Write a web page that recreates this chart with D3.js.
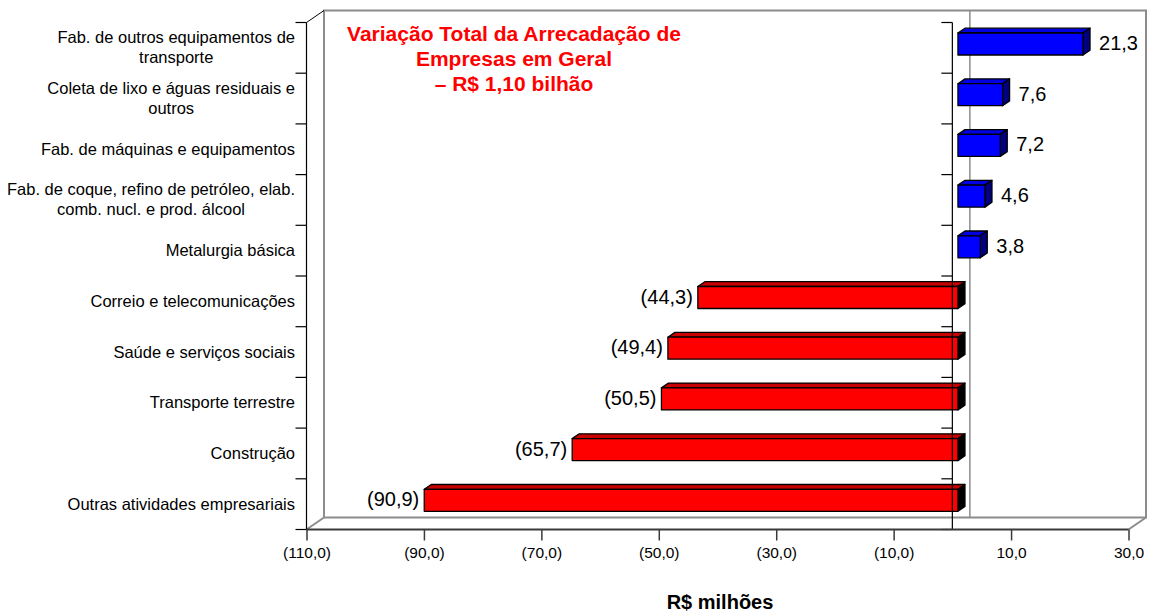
<!DOCTYPE html>
<html>
<head>
<meta charset="utf-8">
<script src="https://cdn.jsdelivr.net/npm/d3@7"></script>
<style>
  html, body { margin: 0; padding: 0; background: #fff; }
  svg { display: block; font-family: "Liberation Sans", Arial, sans-serif; }
</style>
</head>
<body>
<svg id="chart" width="1154" height="612"></svg>
<script>
// ---- data ----
const categories = [
  ["Fab. de outros equipamentos de", "transporte"],
  ["Coleta de lixo e águas residuais e", "outros"],
  ["Fab. de máquinas e equipamentos"],
  ["Fab. de coque, refino de petróleo, elab.", "comb. nucl. e prod. álcool"],
  ["Metalurgia básica"],
  ["Correio e telecomunicações"],
  ["Saúde e serviços sociais"],
  ["Transporte terrestre"],
  ["Construção"],
  ["Outras atividades empresariais"]
];
const values = [21.3, 7.6, 7.2, 4.6, 3.8, -44.3, -49.4, -50.5, -65.7, -90.9];
const tickValues = [-110, -90, -70, -50, -30, -10, 10, 30];
const titleLines = ["Variação Total da Arrecadação de", "Empresas em Geral", "– R$ 1,10 bilhão"];
const axisTitle = "R$ milhões";

// ---- layout ----
const svg = d3.select("#chart");
const DX = 17.5, DY = -12;          // 3D depth offset
const F0 = 0.32, F1 = 0.72;         // bar depth (front/back fraction)
const x = d3.scaleLinear().domain([-110, 30]).range([306.5, 1128.5]);
const keys = categories.map((c, i) => i);
const y = d3.scaleBand().domain(keys).range([22.5, 529.5]);
const barH = 22;

const fmt = v => {
  const s = d3.format(".1f")(Math.abs(v)).replace(".", ",");
  return v < 0 ? "(" + s + ")" : s;
};

const xL = x.range()[0], xR = x.range()[1];
const yT = y.range()[0], yB = y.range()[1];

// back wall
const wall = svg.append("g").attr("fill", "none").attr("stroke", "#8c8c8c").attr("stroke-width", 2);
wall.append("path").attr("d",
  `M${xL+DX},${yB+DY}L${xL+DX},${yT+DY}L${xR+DX},${yT+DY}L${xR+DX},${yB+DY}L${xL+DX},${yB+DY}`);
// floor side diagonals
wall.append("line").attr("x1", xL).attr("y1", yB).attr("x2", xL+DX).attr("y2", yB+DY);
wall.append("line").attr("x1", xR).attr("y1", yB).attr("x2", xR+DX).attr("y2", yB+DY);
// back zero line
wall.append("line").attr("x1", x(0)+DX).attr("y1", yT+DY).attr("x2", x(0)+DX).attr("y2", yB+DY)
  .attr("stroke-width", 1.5);

// top-left diagonal (black)
svg.append("line").attr("x1", xL).attr("y1", yT).attr("x2", xL+DX).attr("y2", yT+DY)
  .attr("stroke", "#000").attr("stroke-width", 1);

// bars
const bars = svg.append("g");
values.forEach((v, i) => {
  const a = x(Math.min(0, v)), b = x(Math.max(0, v));
  const yc = y(i) + y.bandwidth() / 2;
  const t = yc - barH / 2, btm = yc + barH / 2;
  const p = (xx, yy, f) => [xx + DX * f, yy + DY * f];
  const pos = v >= 0;
  const cFront = pos ? "#0000ff" : "#ff0000";
  const cTop = pos ? "#0000e0" : "#c80000";
  const cSide = pos ? "#000080" : "#000000";
  const poly = pts => "M" + pts.map(q => q.join(",")).join("L") + "Z";
  const g = bars.append("g").attr("stroke", "#000").attr("stroke-width", 1.3).attr("stroke-linejoin", "round");
  // top face
  g.append("path").attr("fill", cTop)
    .attr("d", poly([p(a, t, F0), p(b, t, F0), p(b, t, F1), p(a, t, F1)]));
  // side face (right)
  g.append("path").attr("fill", cSide)
    .attr("d", poly([p(b, t, F0), p(b, t, F1), p(b, btm, F1), p(b, btm, F0)]));
  // front face
  const f = p(a, t, F0);
  g.append("rect").attr("fill", cFront)
    .attr("x", f[0]).attr("y", f[1]).attr("width", b - a).attr("height", barH);
  // value label
  const lx = pos ? p(b, t, F1)[0] + 9 : f[0] - 5;
  svg.append("text")
    .attr("x", lx).attr("y", yc + DY * F0 + 6)
    .attr("text-anchor", pos ? "start" : "end")
    .attr("font-size", 20).attr("fill", "#000")
    .text(fmt(v));
});

// category axis lines with ticks (left edge and at zero)
const catAxis = (xx) => {
  const g = svg.append("g").attr("stroke", "#000").attr("stroke-width", 1.2);
  g.append("line").attr("x1", xx).attr("y1", yT).attr("x2", xx).attr("y2", yB);
  const bounds = keys.map(k => y(k)).concat([yB]);
  bounds.forEach(by => {
    g.append("line").attr("x1", xx - 11).attr("y1", by).attr("x2", xx).attr("y2", by);
  });
};
catAxis(xL);
catAxis(x(0));

// bottom value axis
const axis = d3.axisBottom(x).tickValues(tickValues).tickSize(11).tickPadding(6)
  .tickFormat(fmt);
const ax = svg.append("g").attr("transform", `translate(0,${yB})`).call(axis);
ax.select(".domain").attr("stroke", "#3a3a3a").attr("stroke-width", 2.2)
  .attr("d", `M${xL},0H${xR}`);
ax.selectAll(".tick line").attr("stroke", "#3a3a3a").attr("stroke-width", 1.5);
ax.selectAll(".tick text").attr("font-size", 15.5).attr("fill", "#000")
  .attr("font-family", "'Liberation Sans', Arial, sans-serif");

// category labels (block right-aligned, lines centred in block)
const labelRight = 295, lineH = 20;
categories.forEach((lines, i) => {
  const yc = y(i) + y.bandwidth() / 2;
  const g = svg.append("g");
  const texts = lines.map((ln, j) => g.append("text")
    .attr("font-size", 16.5).attr("fill", "#000")
    .attr("text-anchor", "middle")
    .attr("y", yc + (j - (lines.length - 1) / 2) * lineH + 5.5)
    .text(ln));
  const w = d3.max(texts, t => t.node().getComputedTextLength());
  texts.forEach(t => t.attr("x", labelRight - w / 2));
});

// title
const tt = svg.append("text").attr("text-anchor", "middle").attr("font-weight", "bold")
  .attr("font-size", 21).attr("fill", "#ff0000");
titleLines.forEach((ln, j) => {
  tt.append("tspan").attr("x", 514).attr("y", 41 + j * 25).text(ln);
});

// axis title
svg.append("text").attr("x", 720).attr("y", 609).attr("text-anchor", "middle")
  .attr("font-weight", "bold").attr("font-size", 20).attr("fill", "#000")
  .text(axisTitle);
</script>
</body>
</html>
